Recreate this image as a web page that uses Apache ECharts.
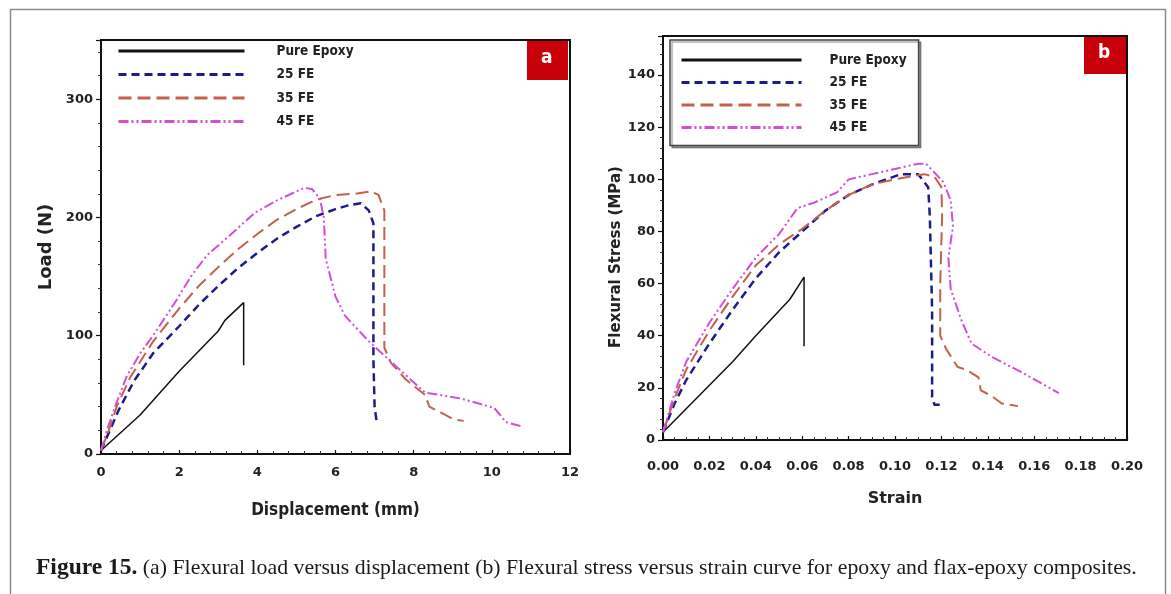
<!DOCTYPE html>
<html><head><meta charset="utf-8">
<script src="https://cdn.jsdelivr.net/npm/echarts/dist/echarts.min.js"></script>
<style>html,body{margin:0;padding:0;background:#fff}#c{width:1171px;height:594px}</style>
</head><body><div id="c"></div>
<script>
const seriesNames = ['Pure Epoxy', '25 FE', '35 FE', '45 FE'];

// Panel (a): Load (N) vs Displacement (mm)
const aPure = [[0,3],[1,33],[2,70],[3,104],[3.17,113],[3.65,128],[3.65,75]];
const a25 = [[0,3],[0.2,18],[0.45,37],[0.85,62],[1.33,85],[2,108],[2.5,126],[3,142],[3.5,157],[4,170],[4.5,182],[5,192],[5.5,201],[6,207],[6.3,210],[6.65,212],[6.85,206],[6.97,195],[6.97,150],[6.97,80],[7.0,40],[7.05,28],[7.12,26]];
const a35 = [[0,3],[0.2,20],[0.4,40],[0.75,65],[1.33,95],[2,123],[2.5,142],[3,158],[3.5,173],[4,186],[4.5,198],[5,207],[5.5,215],[6,219],[6.5,220],[6.9,222],[7.1,219],[7.25,206],[7.25,150],[7.25,90],[7.42,77],[7.8,63],[8.29,50],[8.4,40],[8.7,35],[9.03,29],[9.28,28]];
const a45 = [[0,3],[0.15,20],[0.36,40],[0.65,65],[1,85],[1.33,100],[1.93,130],[2.3,150],[2.71,168],[3.3,185],[3.94,204],[4.48,214],[5.0,222],[5.2,225],[5.4,224],[5.6,216],[5.7,200],[5.75,165],[6.0,133],[6.24,117],[6.83,96],[7.42,78],[8.29,52],[9.19,47],[10.06,39],[10.36,27],[10.8,23]];

// Panel (b): Flexural Stress (MPa) vs Strain
const bPure = [[0,3],[0.01,12],[0.02,21],[0.03,30],[0.04,40],[0.0547,54],[0.0608,62.5],[0.0608,36]];
const b25 = [[0,3],[0.005,14],[0.01,23],[0.02,37],[0.03,50],[0.04,62],[0.05,72],[0.06,80],[0.07,88],[0.08,94],[0.09,98],[0.1026,102],[0.11,102],[0.1143,97],[0.115,86],[0.116,50],[0.116,16.5],[0.117,13.5],[0.12,13.5]];
const b35 = [[0,3],[0.005,16],[0.01,27],[0.02,42],[0.03,55],[0.04,67],[0.05,75],[0.06,81],[0.07,88],[0.08,94],[0.09,98],[0.1,100],[0.1126,102],[0.117,101],[0.12,97],[0.1203,86],[0.1195,60],[0.1195,40],[0.122,35],[0.127,28],[0.1307,27],[0.136,24],[0.137,19],[0.1415,17],[0.146,14],[0.153,13]];
const b45 = [[0,3],[0.005,18],[0.01,30],[0.02,45],[0.03,58],[0.04,70],[0.05,79],[0.058,89],[0.065,91],[0.07,93],[0.075,95],[0.08,100],[0.09,102],[0.1,104],[0.11,106],[0.1134,106],[0.1208,99],[0.124,92],[0.125,82],[0.123,70],[0.124,58],[0.1286,46],[0.133,37],[0.1415,32],[0.1545,26],[0.1706,18]];

const aXTicks = {min: 0, max: 12, interval: 2};
const aYTicks = {min: 0, max: 350, interval: 100};
const bXTicks = {min: 0, max: 0.2, interval: 0.02};
const bYTicks = {min: 0, max: 155, interval: 20};

const caption = 'Figure 15.';
const captionRest = ' (a) Flexural load versus displacement (b) Flexural stress versus strain curve for epoxy and flax-epoxy composites.';

const styles = [
  {color: '#111111', width: 1.5, type: 'solid'},
  {color: '#1c1c8c', width: 2.5, type: [8, 5]},
  {color: '#c4604c', width: 2, type: [13, 6]},
  {color: '#d24fd2', width: 2, type: [10, 3, 2, 3, 2, 3]}
];
const aData = [aPure, a25, a35, a45];
const bData = [bPure, b25, b35, b45];

const BOLD = 'DejaVu Sans';
const NARROW = "'Liberation Sans Narrow', 'DejaVu Sans Condensed', 'DejaVu Sans', sans-serif";

function mkSeries(data, idx) {
  return data.map((d, i) => ({
    name: seriesNames[i], type: 'line', xAxisIndex: idx, yAxisIndex: idx,
    data: d, symbol: 'none', showSymbol: false, silent: true, animation: false,
    lineStyle: {color: styles[i].color, width: styles[i].width, type: styles[i].type},
    itemStyle: {color: styles[i].color}, z: 3 + i
  }));
}

function xAxisCfg(idx, t, name, nameFont, gap, fmt) {
  return {
    gridIndex: idx, type: 'value', min: t.min, max: t.max, interval: t.interval,
    name: name, nameLocation: 'middle', nameGap: gap,
    nameTextStyle: nameFont,
    axisLine: {show: true, onZero: false, lineStyle: {color: '#111', width: 2}},
    axisTick: {show: true, inside: true, length: 4, lineStyle: {color: '#111', width: 1.2}},
    minorTick: {show: true, splitNumber: idx === 0 ? 5 : 4, length: 3, lineStyle: {color: '#333', width: 1}},
    splitLine: {show: false},
    axisLabel: {color: '#222', fontFamily: BOLD, fontWeight: 'bold', fontSize: 13, margin: idx === 0 ? 12 : 20, formatter: fmt}
  };
}
function yAxisCfg(idx, t, name, nameFont, gap, pad) {
  return {
    gridIndex: idx, type: 'value', min: t.min, max: t.max, interval: t.interval,
    name: name, nameLocation: 'middle', nameGap: gap,
    nameTextStyle: Object.assign({padding: pad}, nameFont),
    axisLine: {show: true, onZero: false, lineStyle: {color: '#111', width: 2}},
    axisTick: {show: true, inside: false, length: 5, lineStyle: {color: '#111', width: 1.2}},
    minorTick: {show: true, splitNumber: 5, length: 3, lineStyle: {color: '#333', width: 1}},
    splitLine: {show: false},
    axisLabel: {color: '#222', fontFamily: BOLD, fontWeight: 'bold', fontSize: 13, margin: 8, showMaxLabel: false}
  };
}

const chart = echarts.init(document.getElementById('c'), null, {renderer: 'canvas'});
chart.setOption({
  animation: false,
  backgroundColor: '#ffffff',
  title: {
    text: '{b|' + caption + '}' + captionRest,
    left: 36, top: 556, padding: 0,
    textStyle: {fontFamily: 'Liberation Serif', fontSize: 21.8, fontWeight: 'normal', color: '#1a1a1a',
      rich: {b: {fontFamily: 'Liberation Serif', fontSize: 23.5, fontWeight: 'bold', color: '#1a1a1a'}}}
  },
  grid: [
    {left: 101, top: 40, width: 469, height: 414, show: true, borderColor: '#111', borderWidth: 2, containLabel: false},
    {left: 663, top: 36, width: 464, height: 404, show: true, borderColor: '#111', borderWidth: 2, containLabel: false}
  ],
  legend: [
    {
      data: seriesNames, orient: 'vertical', left: 117, top: 44, itemWidth: 126, itemHeight: 14, itemGap: 9.5,
      selectedMode: false, padding: 0,
      itemStyle: {opacity: 0, borderWidth: 0},
      lineStyle: {width: 3},
      textStyle: {fontFamily: NARROW, fontWeight: 'bold', fontSize: 13.5, color: '#222', padding: [0, 0, 0, 27]}
    },
    {
      data: seriesNames, orient: 'vertical', left: 670, top: 40, itemWidth: 120, itemHeight: 14, itemGap: 8.5,
      selectedMode: false, padding: [13, 12, 11, 10],
      borderColor: '#444', borderWidth: 1.5, backgroundColor: '#fff',
      shadowColor: 'rgba(0,0,0,0.35)', shadowOffsetX: 2, shadowOffsetY: 2, shadowBlur: 1,
      itemStyle: {opacity: 0, borderWidth: 0},
      lineStyle: {width: 3},
      textStyle: {fontFamily: NARROW, fontWeight: 'bold', fontSize: 13.5, color: '#222', padding: [0, 0, 0, 23]}
    }
  ],
  xAxis: [
    xAxisCfg(0, aXTicks, 'Displacement (mm)', {fontFamily: NARROW, fontWeight: 'bold', fontSize: 17, color: '#222'}, 48, v => String(v)),
    xAxisCfg(1, bXTicks, 'Strain', {fontFamily: BOLD, fontWeight: 'bold', fontSize: 16, color: '#222'}, 51, v => v.toFixed(2))
  ],
  yAxis: [
    yAxisCfg(0, aYTicks, 'Load (N)', {fontFamily: BOLD, fontWeight: 'bold', fontSize: 18, color: '#222'}, 46, [0, 0, 0, 0]),
    yAxisCfg(1, bYTicks, 'Flexural Stress (MPa)', {fontFamily: BOLD, fontWeight: 'bold', fontSize: 15, color: '#222'}, 35, [0, 38, 0, 0])
  ],
  graphic: [
    {type: 'rect', left: 8, top: 7, shape: {width: 1155, height: 600}, style: {fill: 'none', stroke: '#8a8a8a', lineWidth: 1.5}, silent: true, z: 0},
    {type: 'rect', left: 527, top: 41, shape: {width: 41, height: 39}, style: {fill: '#c8000a'}, z: 10},
    {type: 'text', left: 541, top: 49, style: {text: 'a', fill: '#fff', font: "bold 19px 'Liberation Sans Narrow', 'DejaVu Sans Condensed', sans-serif"}, z: 11},
    {type: 'rect', left: 1084, top: 37, shape: {width: 42, height: 37}, style: {fill: '#c8000a'}, z: 10},
    {type: 'text', left: 1098, top: 44, style: {text: 'b', fill: '#fff', font: "bold 19px 'Liberation Sans Narrow', 'DejaVu Sans Condensed', sans-serif"}, z: 11}
  ],
  series: mkSeries(aData, 0).concat(mkSeries(bData, 1))
});
</script></body></html>
